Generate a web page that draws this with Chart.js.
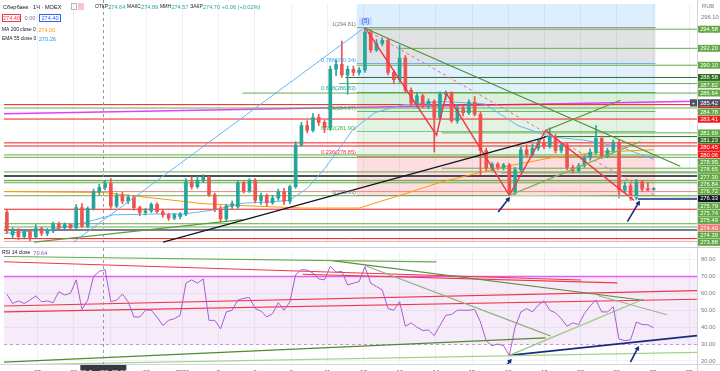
<!DOCTYPE html>
<html lang="ru">
<head>
<meta charset="utf-8">
<script src="https://cdn.jsdelivr.net/npm/chart.js@4.4.1/dist/chart.umd.min.js"></script>
<style>
  html, body { margin: 0; padding: 0; background: #fff; }
  #wrap { position: relative; width: 720px; height: 371px; overflow: hidden; }
  #priceChart { position: absolute; left: 0; top: 0; }
  #rsiChart { position: absolute; left: 0; top: 248px; }
</style>
</head>
<body>
<div id="wrap">
  <canvas id="priceChart" width="720" height="248"></canvas>
  <canvas id="rsiChart" width="720" height="123"></canvas>
</div>
<script>
// Сбербанк 1Ч MOEX

const opens = [
  271.8, 269.0, 269.6, 268.8, 269.4, 268.8, 269.8, 269.2, 269.5, 270.4,
  269.9, 270.3, 269.9, 272.4, 270.1, 272.3, 274.4, 274.9, 275.4, 272.6,
  273.9, 273.2, 273.7, 272.4, 271.8, 272.0, 272.8, 271.9, 271.5, 271.1,
  271.3, 271.6, 275.6, 275.0, 275.8, 276.2, 274.0, 272.2, 271.0, 272.6,
  272.5, 275.5, 274.5, 275.8, 273.3, 273.9, 273.0, 273.6, 274.4, 273.2,
  275.0, 280.2, 282.6, 282.0, 283.6, 283.0, 282.3, 289.6, 290.2, 288.9,
  289.6, 289.2, 289.5, 294.2, 292.0, 292.8, 293.2, 289.2, 288.3, 291.0,
  287.0, 285.4, 286.3, 285.2, 285.6, 283.6, 286.5, 286.7, 283.2, 284.8,
  284.2, 285.5, 284.0, 279.5, 277.3, 277.8, 277.4, 277.7, 274.3, 277.1,
  279.6, 279.0, 279.8, 280.5, 280.0, 281.2, 279.5, 280.2, 277.4, 277.0,
  277.6, 278.6, 279.3, 281.0, 278.8, 279.5, 280.5, 274.6, 275.1, 273.6,
  275.6, 274.7, 274.64
];
const highs = [
  272.2, 269.9, 269.8, 269.7, 269.6, 270.3, 270.0, 269.8, 270.6, 270.6,
  270.5, 270.4, 272.8, 272.9, 272.5, 274.7, 275.3, 275.8, 276.0, 274.2,
  274.3, 274.0, 273.9, 272.6, 272.3, 273.0, 273.0, 272.2, 271.7, 271.7,
  271.8, 276.0, 276.2, 276.3, 276.5, 276.3, 274.2, 272.6, 272.8, 273.2,
  275.8, 275.7, 276.0, 276.0, 274.2, 274.1, 273.9, 274.7, 274.8, 275.2,
  280.6, 283.0, 283.2, 284.1, 284.0, 283.3, 290.0, 290.8, 293.1, 290.0,
  290.0, 289.8, 294.81, 294.5, 293.3, 293.5, 293.4, 289.5, 292.6, 291.3,
  287.3, 286.7, 286.5, 285.9, 285.8, 286.8, 286.9, 286.8, 285.2, 285.1,
  285.8, 286.2, 284.3, 279.8, 278.0, 278.0, 277.9, 277.9, 277.4, 279.9,
  280.2, 280.3, 280.9, 280.9, 282.3, 281.5, 280.5, 280.4, 277.7, 277.9,
  278.8, 279.7, 282.6, 281.3, 279.8, 280.8, 280.8, 275.6, 275.5, 275.9,
  275.8, 275.5, 274.89
];
const lows = [
  269.2, 268.6, 268.4, 268.5, 268.3, 268.6, 268.9, 268.9, 269.3, 269.7,
  269.7, 269.7, 269.8, 269.9, 269.9, 272.1, 274.0, 274.6, 272.3, 272.4,
  272.9, 272.9, 272.1, 271.4, 271.5, 271.8, 271.7, 271.2, 270.8, 270.9,
  271.0, 271.4, 274.7, 274.8, 275.5, 273.8, 271.9, 270.6, 270.8, 272.3,
  272.3, 274.2, 274.3, 273.0, 272.8, 272.6, 272.8, 273.3, 272.8, 272.9,
  274.8, 280.0, 281.7, 281.8, 282.6, 281.7, 282.0, 288.8, 288.6, 286.5,
  288.8, 288.9, 289.2, 291.7, 291.8, 292.5, 288.9, 287.8, 288.0, 286.8,
  285.0, 284.9, 284.8, 284.7, 279.3, 283.3, 285.8, 283.0, 282.9, 283.8,
  284.0, 283.8, 276.5, 277.0, 277.0, 277.1, 277.1, 273.93, 274.0, 276.9,
  278.7, 278.8, 279.5, 279.7, 279.8, 279.2, 279.2, 277.1, 276.7, 276.8,
  277.4, 278.3, 279.0, 278.5, 278.6, 279.2, 273.6, 274.3, 273.3, 273.4,
  274.4, 274.5, 274.57
];
const closes = [
  269.5, 269.6, 268.8, 269.4, 268.7, 269.8, 269.2, 269.5, 270.4, 269.9,
  270.3, 269.9, 272.4, 270.1, 272.3, 274.4, 274.9, 275.4, 272.6, 273.9,
  273.2, 273.7, 272.4, 271.8, 272.0, 272.8, 271.9, 271.5, 271.1, 271.5,
  271.6, 275.6, 275.0, 275.8, 276.2, 274.0, 272.2, 271.0, 272.6, 272.9,
  275.5, 274.5, 275.8, 273.3, 273.9, 273.0, 273.6, 274.4, 273.2, 275.0,
  280.2, 282.6, 282.0, 283.6, 283.0, 282.3, 289.6, 290.2, 288.9, 289.6,
  289.2, 289.5, 294.2, 292.0, 292.8, 293.2, 289.2, 288.3, 291.0, 287.0,
  285.4, 286.3, 285.2, 285.6, 283.6, 286.5, 286.7, 283.2, 284.8, 284.2,
  285.5, 284.0, 279.5, 277.3, 277.8, 277.4, 277.7, 274.3, 277.1, 279.6,
  279.0, 279.8, 280.5, 280.0, 281.2, 279.5, 280.2, 277.4, 277.0, 277.6,
  278.6, 279.3, 281.0, 278.8, 279.5, 280.5, 274.6, 275.1, 273.6, 275.6,
  274.7, 274.64, 274.70
];
const rsiValues = [
  59.5, 54, 55.5, 54, 56, 58.5, 55, 55.5, 54.5, 61,
  59, 60, 68, 50.5, 56, 70, 73, 74, 55, 56,
  59.6, 55, 46, 46, 50, 50, 46, 41, 44, 45,
  47, 66, 68, 66, 68.5, 44, 44, 39, 49, 50,
  56, 57, 57.5, 51, 49.5, 46, 48, 54.5, 50, 55,
  71, 74, 73.8, 72, 68.5, 68, 76, 72.5, 73, 65,
  66, 67, 75.7, 66, 64, 62, 51, 50, 55, 40.5,
  42.5, 40, 38, 38.3, 35, 41, 47, 47.5, 50, 50,
  50, 50.5, 43, 32, 29, 30, 29, 23.3, 40, 49,
  51, 49, 53, 55.5, 50, 48.5, 45, 40.5, 42.5, 41.5,
  48, 52.5, 56, 49, 49, 52, 33, 32, 32.5, 43,
  41.5, 41.4, 39.5
];

// moving averages, [bar, price]
const ma200Points = [[-0.5, 274.4], [16.7, 274.28], [25.3, 273.6], [33.9, 272.9], [40.8, 272.65],
  [51.2, 272.35], [61, 272.35], [68.4, 274.0], [75.3, 275.6], [85.6, 277.4], [94.2, 278.6],
  [102.8, 279.3], [112, 279.6]];
const ema55Points = [[-0.5, 269.2], [8.1, 269.7], [13.3, 270.5], [18.4, 271.5], [25.3, 271.6],
  [30.5, 271.6], [35.7, 272.1], [40.8, 272.95], [45.1, 273.1], [48.9, 273.3], [52, 274.8],
  [55.1, 277.3], [59.8, 282.0], [63.7, 284.2], [68.4, 285.15], [75.3, 285.6], [82.7, 285.3],
  [88.5, 282.6], [94.2, 281.2], [99.9, 280.8], [106.2, 279.95], [112, 278.4]];

// horizontal levels
const levelPrices = [294.58, 292.20, 290.10, 288.58, 287.82, 286.64, 285.20, 284.78, 283.41, 281.69,
  281.23, 280.45, 280.06, 278.95, 278.65, 277.30, 276.84, 276.72, 276.33, 275.79, 275.74, 275.49,
  274.40, 274.39, 273.88, 272.20, 270.40, 270.00, 269.62, 268.55, 268.20];
const levelStarts = [62, 68, 60.6, 58.6, 57.5, 40.8, -0.5, -0.5, -0.5, 75.3,
  93, -0.5, -0.5, -0.5, -0.5, 75.3, -0.5, 85.6, -0.5, -0.5, -0.5, -0.5,
  -0.5, -0.5, -0.5, -0.5, -0.5, -0.5, -0.5, -0.5, -0.5];
const levelTagged = levelPrices.map(p => p >= 273.88);

// fibonacci retracement
const fibRatios = ['1', '0.786', '0.618', '0.5', '0.382', '0.236', '0'];
const fibPrices = [294.81, 290.34, 286.83, 284.37, 281.90, 278.85, 273.93];
const fibFromIdx = 60.6, fibToIdx = 112.3;

// trend lines on price pane, [bar, price]
const fibTrend = [[11.55, 268.12], [62, 294.81]];
const blackTrend = [[27.05, 268.12], [93.3, 281.16]];
const waveZigzag = [[62, 294.81], [74.4, 281.4], [76.1, 286.6], [87, 273.93], [93.3, 282.0], [108.6, 273.3]];
const pinkDashed = [[62, 294.57], [112.3, 273.92]];
const greenDown = [[62, 294.69], [116.6, 277.54]];
const channelTop = [[93.3, 282.0], [106.25, 285.75]];
const channelBottom = [[87, 273.93], [109.7, 280.6]];
const lowFlat = [[87, 273.93], [119.5, 273.7]];
const navyFlat = [[109.3, 273.47], [119.5, 273.47]];
const greenLow = [[4.7, 268.12], [40.8, 270.9]];
const magentaLine = [[-0.5, 284.06], [119.5, 285.63]];
const arrow1 = [[85.07, 271.86], [86.8, 273.43]];
const arrow2 = [[107.45, 270.66], [109.35, 272.95]];

// trend lines on RSI pane, [bar, rsi]
const rsiG1 = [[-0.5, 81.8], [74.4, 78.6]];
const rsiG2 = [[56.3, 79.3], [110.2, 55.9]];
const rsiG3 = [[62, 76.5], [94.2, 34.7]];
const rsiG4 = [[102.3, 58.7], [114.3, 47.3]];
const rsiG5 = [[-0.5, 19.3], [93.3, 33.6]];
const rsiG6 = [[-0.5, 17.6], [119.5, 25.0]];
const rsiG7 = [[87, 23.3], [110.2, 56.5]];
const rsiNavy = [[87, 23.3], [119.5, 35.0]];
const rsiR1 = [[-0.5, 52.5], [119.5, 61.6]];
const rsiR2 = [[-0.5, 49.0], [119.5, 56.5]];
const rsiR3 = [[-0.5, 78.7], [99.4, 67.9]];
const rsiR4 = [[51.2, 71.3], [105.7, 66.2]];
const rsiArrow1 = [[86.1, 15.3], [87.1, 19.9]];
const rsiArrow2 = [[107.97, 19.3], [109.2, 27.3]];

// axes
const xTickIdx = [5.35, 11.62, 17.89, 24.16, 30.42, 36.69, 42.96, 49.22, 55.49, 61.76,
  68.03, 74.29, 80.56, 86.83, 93.09, 99.36, 105.63, 111.9, 118.16];
const xTickLabels = ['25', '28', '29', '30', '2021', '5', '6', '8', '11', '12',
  '13', '14', '15', '18', '19', '20', '21', '22', '25'];
const priceTicks = [296.10, 294.30];
const rsiTicks = [80, 70, 60, 50, 40, 30, 20];
const crosshairIdx = 16.7;
const crosshairPrice = 285.42;
const crosshairTime = "28 Дек '20  22:00";
const maLegend = '274.00', emaLegend = '270.26', rsiLegend = '70.64';
const changeText = '+0.06 (+0.02%)';
const bidAsk = ['274.40', '0.00', '274.40'];

const PRICE_MIN = 267.88, PRICE_MAX = 297.71;
const RSI_MIN = 18.17, RSI_MAX = 84.46;
const X_MIN = -0.5, X_MAX = 119.5;

// styles
const UP = '#26a69a', DOWN = '#ef5350';
const FONT = '"Liberation Sans", Arial, sans-serif';
const levelKind = ['g', 'g', 'g', 'dg', 'g', 'g', 'r', 'g', 'r', 'g',
  'dg', 'r', 'r', 'g', 'g', 'g', 'g', 'g', 'k', 'g', 'g', 'g',
  'lr', 'lg', 'g', 'r', 'g', 'g', 'dk', 'r', 'pk'];
const kindColor = { g: '#6aab4d', dg: '#2f6b22', r: '#f21c1c', lr: '#f58c8c', lg: '#a9d48f', k: '#131722', dk: '#50535e', pk: '#f7a6a6' };
const kindTag = { g: '#62a845', dg: '#2e6b1f', r: '#f21c1c', lr: '#f47a7a', lg: '#62a845', k: '#131722', dk: '#50535e', pk: '#f47a7a' };
const fibFill = ['rgba(120,123,134,0.22)', 'rgba(33,150,243,0.14)', 'rgba(76,175,80,0.2)',
  'rgba(76,175,80,0.16)', 'rgba(76,175,80,0.12)', 'rgba(242,54,69,0.17)'];
const fibLine = ['#9598a1', '#64b5f6', '#4caf50', '#66bb6a', '#81c784', '#f77c80', '#9598a1'];
const fibText = ['#787b86', '#42a5f5', '#26a69a', '#4caf50', '#4caf50', '#f23645', '#787b86'];

function pts(arr) {
    return arr.map(p => ({ x: p[0], y: p[1] }));
}

function lineDs(data, color, width, extra) {
    return Object.assign({
        type: 'line', data: pts(data), borderColor: color, borderWidth: width,
        pointRadius: 0, fill: false, tension: 0, order: 0
    }, extra || {});
}

function arrowDs(data, rotation) {
    return lineDs(data, '#1a2a80', 1.6, {
        pointRadius: [0, 3], pointStyle: 'triangle', pointRotation: rotation,
        pointBackgroundColor: '#1a2a80', pointBorderColor: '#1a2a80', pointBorderWidth: 0
    });
}

// writes pieces one after another, returns the end x
function textRun(ctx, x, y, pieces) {
    pieces.forEach(([text, color, font, gap]) => {
        ctx.font = font;
        ctx.fillStyle = color;
        ctx.fillText(text, x, y);
        x += ctx.measureText(text).width + (gap || 0);
    });
    return x;
}

const candleColor = ctx => closes[ctx.dataIndex] >= opens[ctx.dataIndex] ? UP : DOWN;

// price pane datasets
const priceSets = [];
levelPrices.forEach((p, i) => {
    const k = levelKind[i];
    priceSets.push(lineDs([[levelStarts[i], p], [X_MAX, p]], kindColor[k], (k === 'k' || k === 'dk') ? 1.6 : 1, { order: 6 }));
});
priceSets.push(lineDs(magentaLine, '#e040fb', 1.4, { order: 6 }));
priceSets.push(lineDs(ma200Points, '#ff9800', 1, { order: 5 }));
priceSets.push(lineDs(ema55Points, '#64b5f6', 1, { order: 5 }));
priceSets.push({
    type: 'bar', data: opens.map((o, i) => ({ x: i, y: [lows[i], highs[i]] })),
    backgroundColor: candleColor, barThickness: 1, grouped: false, order: 3
});
priceSets.push({
    type: 'bar', data: opens.map((o, i) => ({ x: i, y: [o, closes[i]] })),
    backgroundColor: candleColor, barThickness: 3, grouped: false, minBarLength: 1, order: 2
});
priceSets.push(lineDs(fibTrend, '#64b5f6', 1));
priceSets.push(lineDs(blackTrend, '#131722', 1.4));
priceSets.push(lineDs(greenDown, '#4e8f35', 1.2));
priceSets.push(lineDs(channelTop, '#5d9c3e', 1.2));
priceSets.push(lineDs(channelBottom, '#7cb35a', 1.2));
priceSets.push(lineDs(lowFlat, '#b9d9a6', 1));
priceSets.push(lineDs(greenLow, '#5d9c3e', 1.2));
priceSets.push(lineDs(pinkDashed, '#f06292', 1, { borderDash: [3, 3] }));
priceSets.push(lineDs(waveZigzag, '#f23645', 1.4));
priceSets.push(lineDs(navyFlat, '#1a2a80', 1.6));
priceSets.push(arrowDs(arrow1, 38));
priceSets.push(arrowDs(arrow2, 30));

function dashedV(ctx, x, top, bottom) {
    ctx.save();
    ctx.strokeStyle = '#9598a1';
    ctx.lineWidth = 1;
    ctx.setLineDash([3, 3]);
    ctx.beginPath();
    ctx.moveTo(Math.round(x) + 0.5, top);
    ctx.lineTo(Math.round(x) + 0.5, bottom);
    ctx.stroke();
    ctx.restore();
}

const pricePlugin = {
    id: 'priceDecor',
    beforeDatasetsDraw(chart) {
        const { ctx, chartArea: a, scales: { x, y } } = chart;
        const x0 = x.getPixelForValue(fibFromIdx), x1 = x.getPixelForValue(fibToIdx);
        ctx.save();
        ctx.beginPath();
        ctx.rect(a.left, a.top, a.right - a.left, a.bottom - a.top);
        ctx.clip();
        ctx.fillStyle = 'rgba(66,165,245,0.18)';
        ctx.fillRect(x0, a.top, x1 - x0, y.getPixelForValue(fibPrices[0]) - a.top);
        for (let k = 0; k < fibPrices.length - 1; k++) {
            const ya = y.getPixelForValue(fibPrices[k]);
            const yb = y.getPixelForValue(fibPrices[k + 1]);
            ctx.fillStyle = fibFill[k];
            ctx.fillRect(x0, ya, x1 - x0, yb - ya);
        }
        fibPrices.forEach((p, k) => {
            const yy = Math.round(y.getPixelForValue(p)) + 0.5;
            ctx.strokeStyle = fibLine[k];
            ctx.lineWidth = 1;
            ctx.beginPath();
            ctx.moveTo(x0, yy);
            ctx.lineTo(x1, yy);
            ctx.stroke();
        });
        ctx.restore();
    },
    afterDraw(chart) {
        const { ctx, chartArea: a, scales: { x, y } } = chart;
        ctx.save();

        dashedV(ctx, x.getPixelForValue(crosshairIdx), 0, a.bottom);

        // fib labels
        ctx.font = '5.6px ' + FONT;
        ctx.textAlign = 'right';
        ctx.textBaseline = 'middle';
        const fx = x.getPixelForValue(fibFromIdx) - 1;
        fibPrices.forEach((p, k) => {
            ctx.fillStyle = fibText[k];
            ctx.fillText(fibRatios[k] + '(' + p.toFixed(2) + ')', fx, y.getPixelForValue(p) - 3);
        });

        // wave label
        const px = x.getPixelForValue(62), py = y.getPixelForValue(294.81);
        ctx.fillStyle = 'rgba(41,98,255,0.15)';
        ctx.fillRect(px - 6, py - 10, 13, 8);
        ctx.fillStyle = '#2962ff';
        ctx.font = '6.5px ' + FONT;
        ctx.textAlign = 'center';
        ctx.fillText('(5)', px + 0.5, py - 6);

        // legend
        ctx.textAlign = 'left';
        const f = '5.6px ' + FONT, fs = '4.9px ' + FONT;
        textRun(ctx, 3, 7, [['Сбербанк · 1Ч · MOEX', '#131722', f]]);
        ctx.strokeStyle = '#b2b5be';
        ctx.lineWidth = 1;
        ctx.strokeRect(71.5, 3.5, 5, 6);
        ctx.fillStyle = '#f8c4d0';
        ctx.fillRect(78, 3, 6, 7);
        const hdrNames = ['ОТКР', 'МАКС', 'МИН', 'ЗАКР'];
        const hdrVals = [opens[opens.length - 1], highs[highs.length - 1], lows[lows.length - 1], closes[closes.length - 1]];
        const run = [];
        hdrNames.forEach((n, k) => {
            run.push([n, '#131722', fs, 0.3]);
            run.push([hdrVals[k].toFixed(2), UP, f, 1.8]);
        });
        run.push([changeText, UP, f]);
        textRun(ctx, 95, 7, run);

        ctx.font = f;
        ctx.fillStyle = '#fff';
        ctx.fillRect(2.5, 14.5, 18, 7);
        ctx.strokeStyle = '#f23645';
        ctx.strokeRect(2.5, 14.5, 18, 7);
        ctx.fillStyle = '#f23645';
        ctx.textAlign = 'center';
        ctx.fillText(bidAsk[0], 11.5, 18);
        ctx.fillStyle = '#787b86';
        ctx.fillText(bidAsk[1], 30, 18);
        ctx.fillStyle = '#fff';
        ctx.fillRect(39.5, 14.5, 21, 7);
        ctx.strokeStyle = '#2962ff';
        ctx.strokeRect(39.5, 14.5, 21, 7);
        ctx.fillStyle = '#2962ff';
        ctx.fillText(bidAsk[2], 50, 18);

        ctx.textAlign = 'left';
        textRun(ctx, 2, 30, [['MA 200 close 0', '#131722', fs, 2.5], [maLegend, '#ff9800', f]]);
        textRun(ctx, 2, 39, [['EMA 55 close 0', '#131722', fs, 2.5], [emaLegend, '#2196f3', f]]);

        // price axis
        ctx.fillStyle = '#fff';
        ctx.fillRect(a.right, 0, chart.width - a.right, chart.height);
        ctx.strokeStyle = '#d1d4dc';
        ctx.beginPath();
        ctx.moveTo(a.right + 0.5, 0);
        ctx.lineTo(a.right + 0.5, chart.height);
        ctx.stroke();
        ctx.font = '5.8px ' + FONT;
        ctx.fillStyle = '#787b86';
        ctx.fillText('RUB', 702, 6);
        priceTicks.forEach(p => ctx.fillText(p.toFixed(2), 701, y.getPixelForValue(p)));

        const h = 7.3;
        let prev = -Infinity;
        ctx.textAlign = 'center';
        levelPrices.forEach((p, i) => {
            if (!levelTagged[i]) return;
            const c = Math.max(y.getPixelForValue(p), prev + h);
            prev = c;
            ctx.fillStyle = kindTag[levelKind[i]];
            ctx.fillRect(a.right + 1, c - h / 2 + 0.2, chart.width - a.right - 1, h - 0.4);
            ctx.fillStyle = '#fff';
            ctx.fillText(p.toFixed(2), 709, c + 0.3);
        });

        // crosshair price tag
        const cy = y.getPixelForValue(crosshairPrice);
        ctx.fillStyle = '#50535e';
        ctx.fillRect(a.right + 1, cy - h / 2, chart.width - a.right - 1, h);
        ctx.fillRect(a.right - 7, cy - h / 2, 7, h);
        ctx.fillStyle = '#fff';
        ctx.fillText(crosshairPrice.toFixed(2), 709, cy + 0.3);
        ctx.fillText('+', a.right - 3.5, cy + 0.3);

        // pane separator
        ctx.strokeStyle = '#c9ccd4';
        ctx.beginPath();
        ctx.moveTo(0, chart.height - 0.5);
        ctx.lineTo(chart.width, chart.height - 0.5);
        ctx.stroke();
        ctx.restore();
    }
};

new Chart(document.getElementById('priceChart'), {
    type: 'bar',
    data: { datasets: priceSets },
    options: {
        responsive: false,
        animation: false,
        events: [],
        layout: { padding: { top: 0, bottom: 1, left: 0, right: 0 } },
        plugins: { legend: { display: false }, tooltip: { enabled: false } },
        scales: {
            x: {
                type: 'linear', min: X_MIN, max: X_MAX, offset: false,
                afterBuildTicks: s => { s.ticks = xTickIdx.map(v => ({ value: v })); },
                afterFit: s => { s.height = 0; },
                ticks: { display: false },
                border: { display: false },
                grid: { color: '#eef0f4', drawTicks: false, offset: false }
            },
            y: {
                type: 'linear', position: 'right', min: PRICE_MIN, max: PRICE_MAX, beginAtZero: false,
                afterFit: s => { s.width = 23; },
                ticks: { display: false },
                border: { display: false },
                grid: { display: false }
            }
        }
    },
    plugins: [pricePlugin]
});

// RSI pane
const rsiSets = [
    lineDs(rsiG1, '#6aab4d', 1.2, { order: 1 }),
    lineDs(rsiG2, '#5e8c45', 1.2, { order: 1 }),
    lineDs(rsiG3, '#8fb07c', 1.2, { order: 1 }),
    lineDs(rsiG4, '#9eb392', 1.2, { order: 1 }),
    lineDs(rsiG5, '#4d8a32', 1.2, { order: 1 }),
    lineDs(rsiG6, '#a9d18e', 1.2, { order: 1 }),
    lineDs(rsiG7, '#97c77c', 1.2, { order: 1 }),
    lineDs(rsiR1, '#f23645', 1.2, { order: 1 }),
    lineDs(rsiR2, '#f23645', 1.2, { order: 1 }),
    lineDs(rsiR3, '#f23645', 1.2, { order: 1 }),
    lineDs(rsiR4, '#f23645', 1.2, { order: 1 }),
    lineDs(rsiNavy, '#1a2a80', 1.8, { order: 1 }),
    lineDs(rsiValues.map((v, i) => [i, v]), '#ab5bd0', 1, { order: 0 }),
    arrowDs(rsiArrow1, 37),
    arrowDs(rsiArrow2, 27)
];

const rsiPlugin = {
    id: 'rsiDecor',
    beforeDatasetsDraw(chart) {
        const { ctx, chartArea: a, scales: { y } } = chart;
        const y70 = y.getPixelForValue(70), y30 = y.getPixelForValue(30);
        ctx.save();
        ctx.fillStyle = 'rgba(186,104,200,0.13)';
        ctx.fillRect(a.left, y70, a.right - a.left, y30 - y70);
        ctx.strokeStyle = '#ce93d8';
        ctx.setLineDash([3, 3]);
        ctx.beginPath();
        ctx.moveTo(a.left, Math.round(y30) + 0.5);
        ctx.lineTo(a.right, Math.round(y30) + 0.5);
        ctx.stroke();
        ctx.setLineDash([]);
        ctx.strokeStyle = '#e65cf5';
        ctx.lineWidth = 1.5;
        ctx.beginPath();
        ctx.moveTo(a.left, y70);
        ctx.lineTo(a.right, y70);
        ctx.stroke();
        ctx.restore();
    },
    afterDraw(chart) {
        const { ctx, chartArea: a, scales: { x, y } } = chart;
        ctx.save();
        const cx = x.getPixelForValue(crosshairIdx);
        dashedV(ctx, cx, 0, a.bottom);

        ctx.textBaseline = 'middle';
        ctx.textAlign = 'left';
        textRun(ctx, 2, 5, [['RSI 14 close', '#131722', '5px ' + FONT, 3], [rsiLegend, '#7e57c2', '5.6px ' + FONT]]);

        // axis
        ctx.fillStyle = '#fff';
        ctx.fillRect(a.right, 0, chart.width - a.right, chart.height);
        ctx.fillRect(0, a.bottom, chart.width, chart.height - a.bottom);
        ctx.strokeStyle = '#d1d4dc';
        ctx.lineWidth = 1;
        ctx.beginPath();
        ctx.moveTo(a.right + 0.5, 0);
        ctx.lineTo(a.right + 0.5, chart.height);
        ctx.moveTo(0, a.bottom + 0.5);
        ctx.lineTo(chart.width, a.bottom + 0.5);
        ctx.stroke();
        ctx.font = '5.8px ' + FONT;
        ctx.fillStyle = '#787b86';
        rsiTicks.forEach(v => ctx.fillText(v.toFixed(2), 701, y.getPixelForValue(v)));

        ctx.textAlign = 'center';
        ctx.textBaseline = 'top';
        ctx.font = '6.2px ' + FONT;
        ctx.fillStyle = '#50535e';
        xTickIdx.forEach((v, k) => ctx.fillText(xTickLabels[k], x.getPixelForValue(v), a.bottom + 5));

        ctx.fillStyle = '#363a45';
        ctx.fillRect(cx - 23, a.bottom + 1, 46, chart.height - a.bottom);
        ctx.fillStyle = '#fff';
        ctx.fillText(crosshairTime, cx, a.bottom + 5);
        ctx.restore();
    }
};

new Chart(document.getElementById('rsiChart'), {
    type: 'line',
    data: { datasets: rsiSets },
    options: {
        responsive: false,
        animation: false,
        events: [],
        layout: { padding: { top: 0, bottom: 7, left: 0, right: 0 } },
        plugins: { legend: { display: false }, tooltip: { enabled: false } },
        scales: {
            x: {
                type: 'linear', min: X_MIN, max: X_MAX, offset: false,
                afterBuildTicks: s => { s.ticks = xTickIdx.map(v => ({ value: v })); },
                afterFit: s => { s.height = 0; },
                ticks: { display: false },
                border: { display: false },
                grid: { color: '#eef0f4', drawTicks: false }
            },
            y: {
                type: 'linear', position: 'right', min: RSI_MIN, max: RSI_MAX,
                afterBuildTicks: s => { s.ticks = rsiTicks.map(v => ({ value: v })); },
                afterFit: s => { s.width = 23; },
                ticks: { display: false },
                border: { display: false },
                grid: { color: '#f0f2f6', drawTicks: false }
            }
        }
    },
    plugins: [rsiPlugin]
});
</script>
</body>
</html>
